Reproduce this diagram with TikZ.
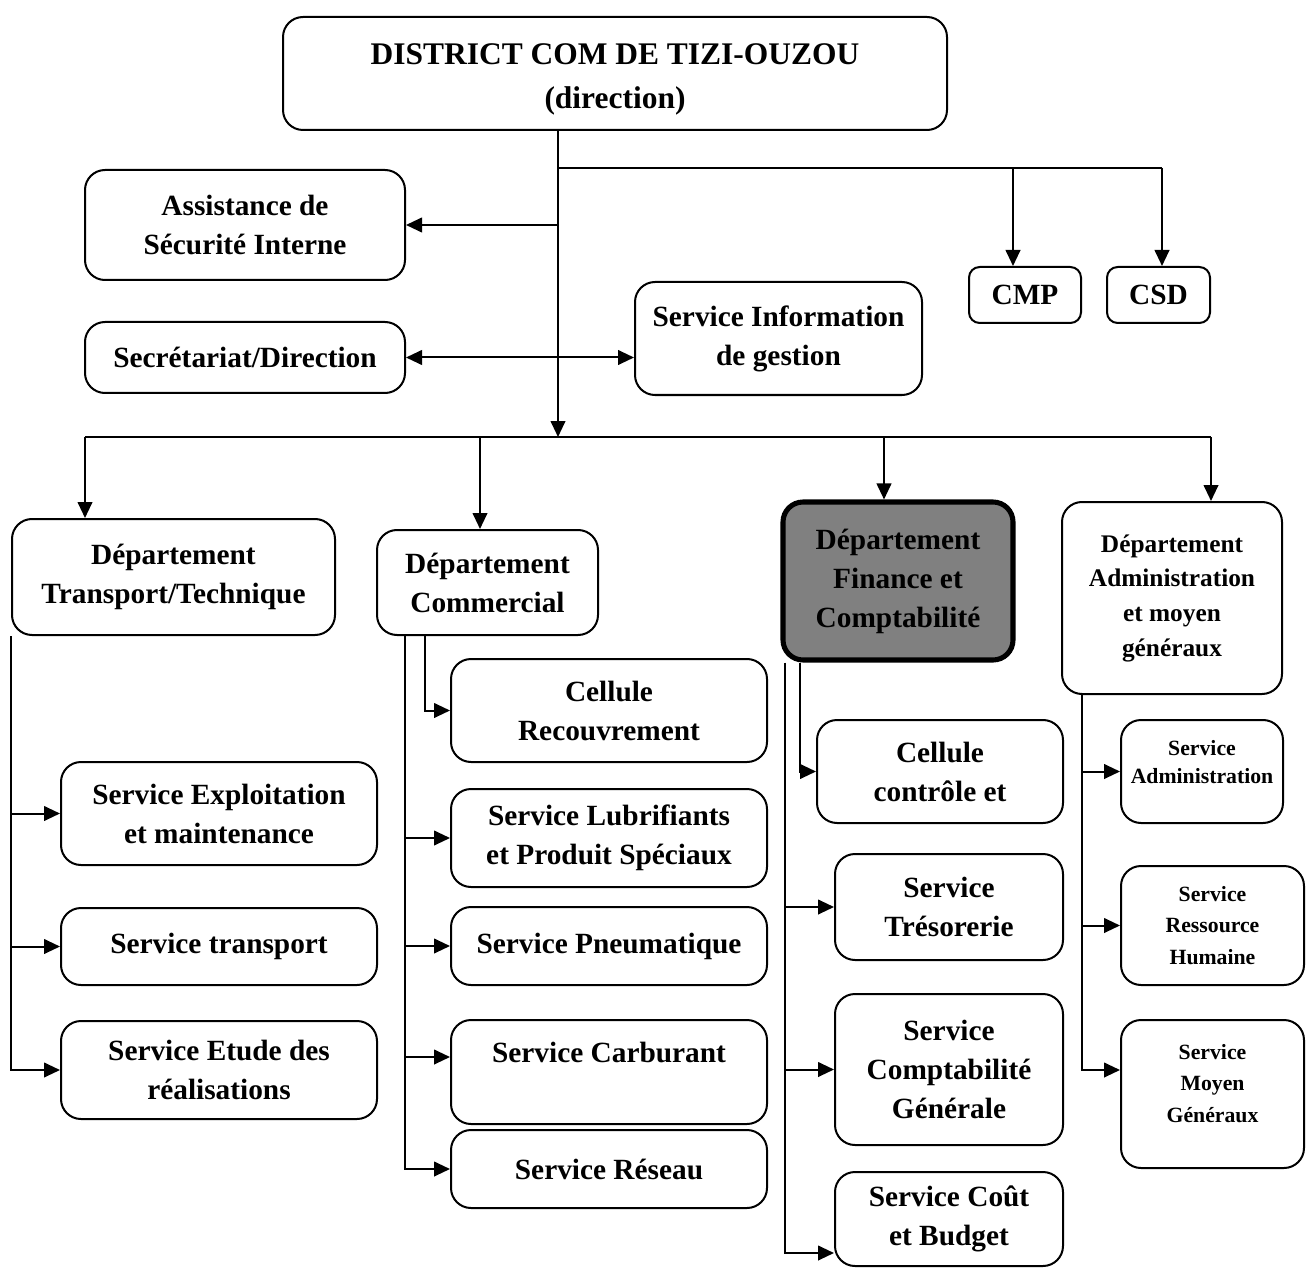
\documentclass[tikz,border=0pt]{standalone}
\usepackage{fontspec}
\setmainfont{Liberation Serif}
\usetikzlibrary{arrows.meta,calc}

\newcommand\mainsz{\fontsize{22}{29.25}\selectfont\bfseries}
\newcommand\titlesz{\fontsize{23.6}{33}\selectfont\bfseries}
\newcommand\deptsz{\fontsize{19}{26}\selectfont\bfseries}
\newcommand\smallsz{\fontsize{16.3}{23.6}\selectfont\bfseries}

\tikzset{
  % a box given by its left, top, right and bottom edges (in px units)
  corners/.style args={#1/#2/#3/#4}{
    minimum width={(#3-#1)*0.75pt}, minimum height={(#4-#2)*0.75pt},
    at={({(#1+#3)/2},{(#2+#4)/2})}},
  box/.style={draw, line width=1.5pt, rounded corners=15pt, inner sep=0pt,
              align=center, font=\mainsz},
  minibox/.style={box, rounded corners=8pt},
  findept/.style={box, fill=black!50, line width=3.8pt},
  ln/.style={line width=1.5pt},
  arr/.style={ln, -{Triangle[length=12pt,width=11pt]}},
  arrboth/.style={ln, {Triangle[length=12pt,width=11pt]}-{Triangle[length=12pt,width=11pt]}},
}

\begin{document}
\begin{tikzpicture}[x=0.75pt,y=-0.75pt]
\useasboundingbox (0,0) rectangle (1306,1269);

% --- direction and staff units ---
\node[box, font=\titlesz, text height=57pt, corners=283/17/947/130] (dir)
  {DISTRICT COM DE TIZI-OUZOU\\(direction)};
\node[box, corners=85/170/405/280] (asst) {Assistance de\\Sécurité Interne};
\node[box, corners=85/322/405/393] (sec) {Secrétariat/Direction};
\node[box, corners=635/282/922/395] (info) {Service Information\\de gestion};
\node[minibox, corners=969/267/1081/323] (cmp) {CMP};
\node[minibox, corners=1107/267/1210/323] (csd) {CSD};

% --- departments ---
\node[box, corners=12/519/335/635] (trans) {Département\\Transport/Technique};
\node[box, corners=377/530/598/635] (com) {Département\\Commercial};
\node[findept, corners=783/502/1013/660] (fin) {Département\\Finance et\\Comptabilité};
\node[box, font=\deptsz, corners=1062/502/1282/694] (adm)
  {Département\\Administration\\et moyen\\généraux};

% --- transport / technique services ---
\node[box, corners=61/762/377/865] (expl) {Service Exploitation\\et maintenance};
\node[box, corners=61/908/377/985] (tra) {Service transport};
\node[box, corners=61/1021/377/1119] (etu) {Service Etude des\\réalisations};

% --- commercial services ---
\node[box, corners=451/659/767/762] (rec) {Cellule\\Recouvrement};
\node[box, corners=451/789/767/887] (lub) {Service Lubrifiants\\et Produit Spéciaux};
\node[box, corners=451/907/767/985] (pne) {Service Pneumatique};
\node[box, text depth=30pt, corners=451/1020/767/1124] (car) {Service Carburant};
\node[box, corners=451/1130/767/1208] (res) {Service Réseau};

% --- finance services ---
\node[box, corners=817/720/1063/823] (cel) {Cellule\\contrôle et};
\node[box, corners=835/854/1063/960] (tre) {Service\\Trésorerie};
\node[box, corners=835/994/1063/1145] (cpt) {Service\\Comptabilité\\Générale};
\node[box, corners=835/1172/1063/1266] (cou) {Service Coût\\et Budget};

% --- administration services ---
\node[box, font=\fontsize{16.3}{21}\selectfont\bfseries, text depth=15pt,
      corners=1121/720/1283/823] (sad) {Service\\Administration};
\node[box, font=\smallsz, corners=1121/866/1304/985] (srh) {Service\\Ressource\\Humaine};
\node[box, font=\smallsz, text depth=16.5pt, corners=1121/1020/1304/1168] (smg)
  {Service\\Moyen\\Généraux};

% --- reference points of the connector network ---
\coordinate (tx) at (558,0);
\coordinate (busy) at (0,437);
\coordinate (j0) at (558,168);
\coordinate (c1) at (1013,168);
\coordinate (c2) at (1162,168);
\coordinate (b1) at (85,437);
\coordinate (b2) at (480,437);
\coordinate (b3) at (884,437);
\coordinate (b4) at (1211,437);
\coordinate (cx1) at (405,0);
\coordinate (cx2) at (425,0);
\coordinate (ycar) at (0,1057);
\coordinate (fx1) at (785,0);
\coordinate (fx2) at (800,0);
\coordinate (ycou) at (0,1253);
\coordinate (ax) at (1082,0);
\coordinate (ymg) at (0,1070);

% --- trunk from the direction ---
\draw[arr] (dir.south -| tx) -- (busy -| tx);
\draw[ln] (j0) -- (c2);
\draw[arr] (c1) -- (c1 |- cmp.north);
\draw[arr] (c2) -- (c2 |- csd.north);
\draw[arr] (asst.east -| tx) -- (asst.east);
\draw[arrboth] (sec.east) -- (sec.east -| info.west);

% --- bus to the departments ---
\draw[ln] (b1) -- (b4);
\draw[arr] (b1) -- (b1 |- trans.north);
\draw[arr] (b2) -- (b2 |- com.north);
\draw[arr] (b3) -- (b3 |- fin.north);
\draw[arr] (b4) -- (b4 |- adm.north);

% --- transport / technique ---
\draw[arr] (trans.south west) |- (etu.west);
\draw[arr] (trans.west |- expl.west) -- (expl.west);
\draw[arr] (trans.west |- tra.west) -- (tra.west);

% --- commercial ---
\draw[arr] (com.south -| cx1) |- (res.west);
\draw[arr] (com.south -| cx2) |- (rec.west);
\draw[arr] (cx1 |- lub.west) -- (lub.west);
\draw[arr] (cx1 |- pne.west) -- (pne.west);
\draw[arr] (cx1 |- ycar) -- (car.west |- ycar);

% --- finance ---
\draw[arr] (fin.south -| fx1) |- (cou.west |- ycou);
\draw[arr] (fin.south -| fx2) |- (cel.west);
\draw[arr] (fx1 |- tre.west) -- (tre.west);
\draw[arr] (fx1 |- cpt.west) -- (cpt.west);

% --- administration ---
\draw[arr] (adm.south -| ax) |- (smg.west |- ymg);
\draw[arr] (ax |- sad.west) -- (sad.west);
\draw[arr] (ax |- srh.west) -- (srh.west);
\end{tikzpicture}
\end{document}
